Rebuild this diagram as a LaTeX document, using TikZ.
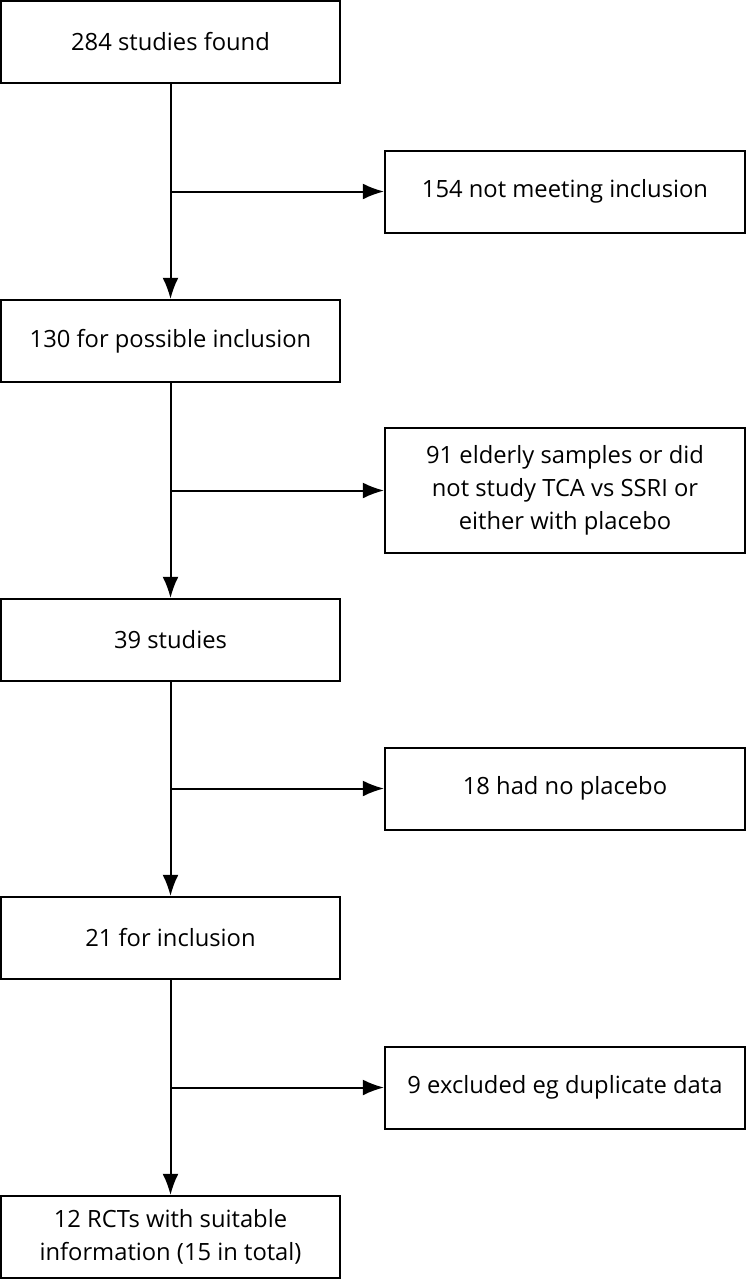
\documentclass[tikz,border=0pt]{standalone}
\usepackage{fontspec}
\setmainfont{Open Sans}
\usetikzlibrary{arrows.meta}

\begin{document}
\begin{tikzpicture}[x=0.4pt,y=-0.4pt,
box/.style={draw,line width=0.8pt,minimum width=135.6pt,minimum height=32.8pt,
  align=center,inner sep=2pt,font=\fontsize{9.5}{13.2}\selectfont},
sidebox/.style={box,minimum width=144pt},
flow/.style={line width=0.8pt,-{Latex[length=8.5pt,width=6.4pt]}}]
\useasboundingbox (0,0) rectangle (747,1280);

\node[box] (found)    at (170.5,42)   {284 studies found};
\node[box] (possible) at (170.5,341)  {130 for possible inclusion};
\node[box] (studies)  at (170.5,640)  {39 studies};
\node[box] (incl)     at (170.5,938)  {21 for inclusion};
\node[box] (rcts)     at (170.5,1237) {12 RCTs with suitable\\information (15 in total)};

\node[sidebox] (notmeet) at (565,191.5) {154 not meeting inclusion};
\node[sidebox,minimum height=50pt] (elderly) at (565,490.5)
  {91 elderly samples or did\\not study TCA vs SSRI or\\either with placebo};
\node[sidebox] (noplacebo) at (565,788.5) {18 had no placebo};
\node[sidebox] (duplicate) at (565,1087.5) {9 excluded eg duplicate data};

\foreach \from/\to/\side in {found/possible/notmeet,possible/studies/elderly,
  studies/incl/noplacebo,incl/rcts/duplicate}{
\draw[flow] (\from) -- (\to);
\draw[flow] (\from.south |- \side) -- (\side);
}

\end{tikzpicture}
\end{document}
